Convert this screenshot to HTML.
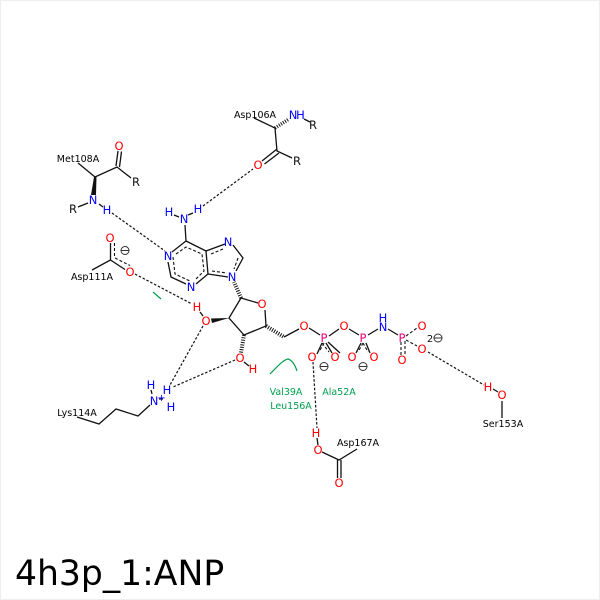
<!DOCTYPE html>
<html><head><meta charset="utf-8"><style>
html,body{margin:0;padding:0;background:#fff;width:600px;height:600px;overflow:hidden}
svg{display:block}
text{font-family:"DejaVu Sans",sans-serif;text-anchor:middle}
.a{font-size:11.500px}
.l{font-size:9.500px;fill:#000}
.g{font-size:9.500px;fill:#00a050}
.n{fill:#0000ff}.o{fill:#ff0000}.p{fill:#e6007e}.k{fill:#111}
.b{stroke:#111;stroke-width:1.300;fill:none}
.d{stroke:#111;stroke-width:1.100;fill:none;stroke-dasharray:3 2}
.h{stroke:#111;stroke-width:1.200;fill:none;stroke-dasharray:2.500 1.800}
.w{stroke:#111;stroke-width:5;fill:none;stroke-dasharray:1 1.400}
</style></head><body>
<svg width="600" height="600" viewBox="0 0 600 600">
<rect x="0.5" y="0.5" width="599" height="599" fill="#fff" stroke="#eeeeee"/>
<!-- bonds -->
<g class="b">
<path d="M78 163L95 177L117 167L131 178"/>
<path d="M116 166L118 151M119.500 167L121.500 151.500"/>
<path d="M88 203L78 207M99 204L103 207"/>
<path d="M254 118L275 128L277 151L292 158"/>
<path d="M277 149L262 161M279 153L264.500 164"/>
<path d="M304 119L310 122"/>
<path d="M185 225L186 241L172 252M186 241L206 251L225 244"/>
<path d="M168 262L171 277L186 284M196 284L208 274L206 251M208 274L228 277M233 245L243 258L236 271"/>
<path d="M174 215L179 217M188 215L193 213"/>
<path d="M241 298L258 303M265 310L266 326L244 335L229 318L241 298M284 337L299 329"/>
<path d="M309 328L320 335M329 336L339 329M349 329L359 335M368 335L378 329M388 329L398 335"/>
<path d="M317 354L322 343M340 353L328 342M356 353L361 343M370 353L366 343M326 343L332 353"/>
<path d="M159 399L163 399M151 390L152 394"/>
<path d="M77 417L99 424L116 409L138 416L150 405"/>
<path d="M92 270L110.500 260L110.500 243M110.500 260L125 269.500"/>
<path d="M493 389L498 392M502 401L502 418"/>
<path d="M322 452L339 460L357 449M337.500 460L337.500 478M341 460L341 478"/>
<path d="M200 312L203 316M244 362L249 366M317 438L318 445"/>
</g>
<!-- wedges -->
<polygon points="94,177 96.500,177 96,195 91,195" fill="#111"/>
<polygon points="229,318 211,318.500 212,323" fill="#111"/>
<!-- hash bonds -->
<g class="w" style="stroke-width:4">
<path d="M275 128L289 119" style="stroke-width:3.500"/>
<path d="M241 298L234 282"/>
<path d="M244 335L241 353"/>
<path d="M266 326L284 337"/>
</g>
<!-- aromatic/inner dashes -->
<g class="d">
<path d="M173 257L175 274L190 281"/>
<path d="M176 254L186 247L202 254L204 271L196 279"/>
<path d="M211 254L223 249M238 258L234 269M212 271L227 273"/>
<path d="M115 258L130 265.500M114.500 243L114.500 257"/>
<path d="M324 343L319 352M322 343L329 352M363 343L358 352M363 343L368 352"/>
<path d="M406 336L417 328M406 340L417 346M405 341L405 356M401 342L401 355"/>
</g>
<!-- h-bonds -->
<g class="h">
<path d="M112 213L165 251"/>
<path d="M203 206L253 169"/>
<path d="M135 274L192 304"/>
<path d="M203 326L170 385"/>
<path d="M235 360L173 387"/>
<path d="M313 362L317 428"/>
<path d="M428 352L484 385"/>
</g>
<!-- green arcs -->
<g fill="none" stroke="#00a050" stroke-width="1.200">
<path d="M153 292L161 299"/>
<path d="M270 374C278 366 283 360 288 359C292 360 295 365 297 371"/>
</g>
<!-- atoms -->
<g class="a">
<text x="119" y="150" class="o">O</text>
<text x="136" y="186" class="k">R</text>
<text x="93" y="204" class="n">N</text>
<text x="107" y="214" class="n">H</text>
<text x="73" y="213" class="k">R</text>
<text x="293" y="119" class="n">N</text>
<text x="300.500" y="119" class="n">H</text>
<text x="313" y="129" class="k">R</text>
<text x="258" y="169" class="o">O</text>
<text x="297" y="165" class="k">R</text>
<text x="184" y="223" class="n">N</text>
<text x="169" y="216" class="n">H</text>
<text x="198" y="213" class="n">H</text>
<text x="168" y="260" class="n">N</text>
<text x="191" y="291" class="n">N</text>
<text x="228" y="246" class="n">N</text>
<text x="232" y="281" class="n">N</text>
<text x="262" y="308" class="o">O</text>
<text x="206" y="325" class="o">O</text>
<text x="197" y="311" class="o">H</text>
<text x="240" y="362" class="o">O</text>
<text x="253" y="373" class="o">H</text>
<text x="304" y="330" class="o">O</text>
<text x="344" y="330" class="o">O</text>
<text x="383" y="331" class="n">N</text>
<text x="383" y="322" class="n">H</text>
<text x="324" y="342" class="p">P</text>
<text x="363" y="342" class="p">P</text>
<text x="402" y="342" class="p">P</text>
<text x="312" y="361" class="o">O</text>
<text x="335" y="361" class="o">O</text>
<text x="352" y="361" class="o">O</text>
<text x="374" y="361" class="o">O</text>
<text x="422" y="330" class="o">O</text>
<text x="422" y="353" class="o">O</text>
<text x="402" y="364" class="o">O</text>
<text x="430" y="342" class="k" style="font-size:10px">2</text>
<text x="488" y="391" class="o">H</text>
<text x="502" y="399" class="o">O</text>
<text x="316" y="437" class="o">H</text>
<text x="318" y="454" class="o">O</text>
<text x="339" y="487" class="o">O</text>
<text x="110" y="242" class="o">O</text>
<text x="130" y="276" class="o">O</text>
<text x="151" y="389" class="n">H</text>
<text x="167" y="394" class="n">H</text>
<text x="171" y="411" class="n">H</text>
<text x="154" y="405" class="n">N</text>
<text x="161.500" y="401" class="n" style="font-size:10px">+</text>
</g>
<!-- charges -->
<g fill="none" stroke="#333" stroke-width="1">
<circle cx="125" cy="250.500" r="4"/><path d="M121 250.500h8"/>
<circle cx="324" cy="366.500" r="4"/><path d="M320 366.500h8"/>
<circle cx="363" cy="366.500" r="4"/><path d="M359 366.500h8"/>
<circle cx="438" cy="338" r="4"/><path d="M434 338h8"/>
</g>
<!-- residue labels -->
<text x="78" y="162" class="l">Met108A</text>
<text x="255" y="118" class="l">Asp106A</text>
<text x="92" y="280" class="l">Asp111A</text>
<text x="77" y="416" class="l">Lys114A</text>
<text x="503" y="427" class="l">Ser153A</text>
<text x="358" y="446" class="l">Asp167A</text>
<text x="286" y="395" class="g">Val39A</text>
<text x="339" y="395" class="g">Ala52A</text>
<text x="291" y="409" class="g">Leu156A</text>
<text x="15" y="585" style="font-size:34.600px;text-anchor:start;fill:#000">4h3p_1:ANP</text>
</svg>
</body></html>
